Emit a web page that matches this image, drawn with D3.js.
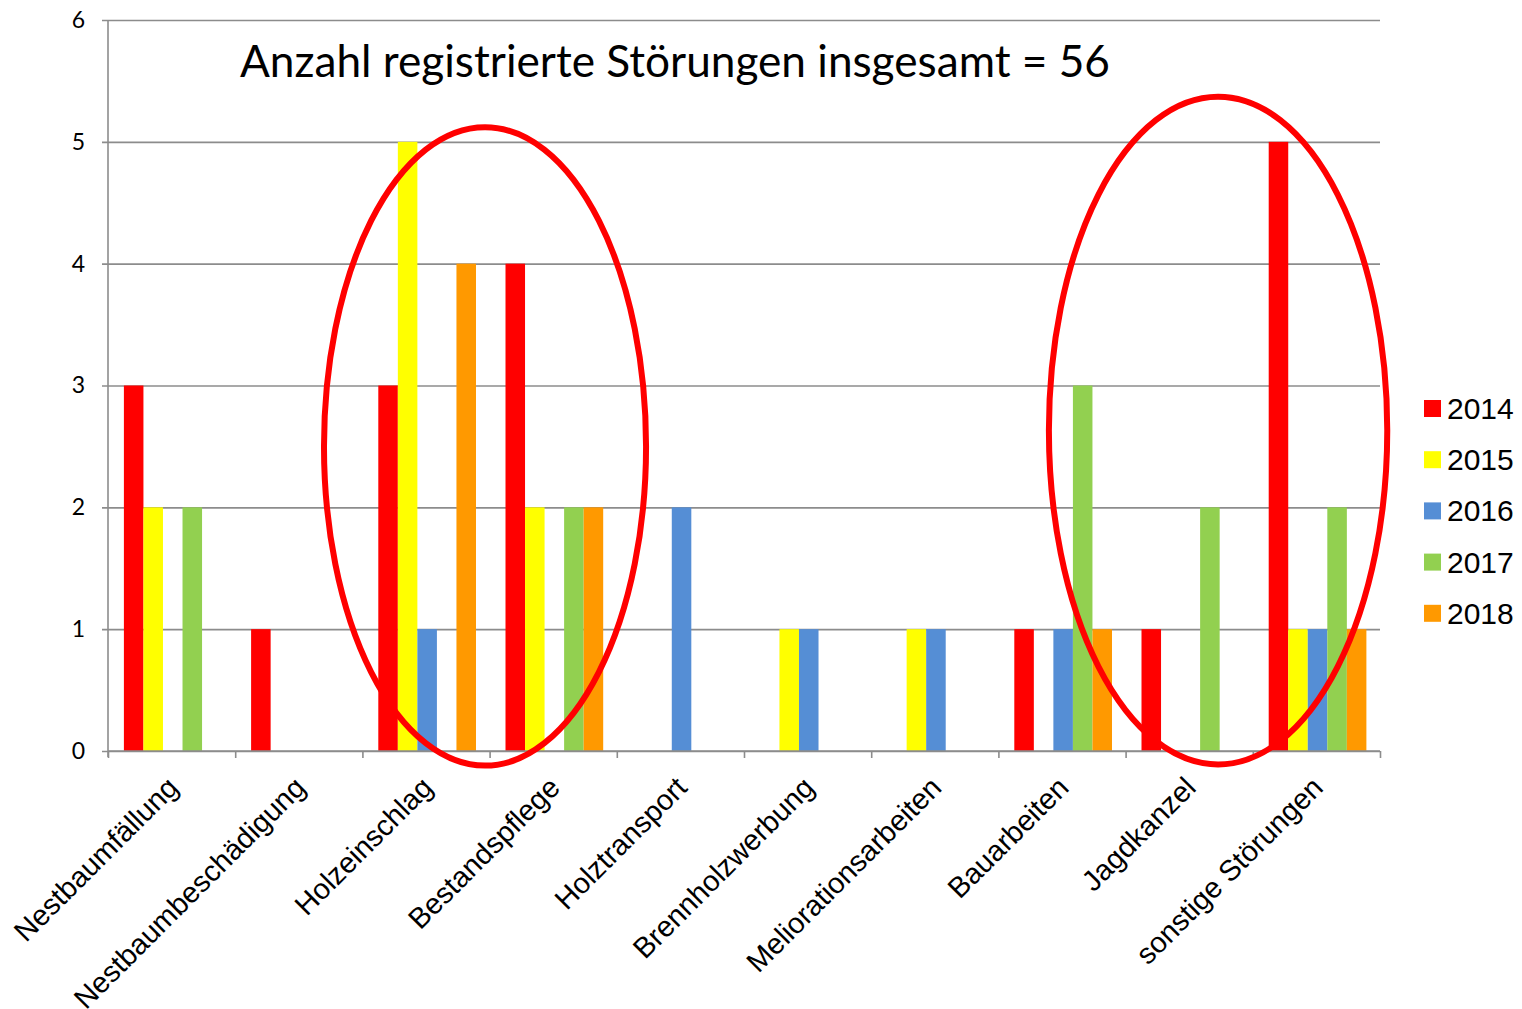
<!DOCTYPE html>
<html>
<head>
<meta charset="utf-8">
<script src="https://cdn.jsdelivr.net/npm/d3@7"></script>
<style>
  body { margin: 0; background: #fff; }
  svg { display: block; }
</style>
</head>
<body>
<svg id="chart"></svg>
<script>
// data
let categories = ["Nestbaumfällung", "Nestbaumbeschädigung", "Holzeinschlag", "Bestandspflege", "Holztransport",
                  "Brennholzwerbung", "Meliorationsarbeiten", "Bauarbeiten", "Jagdkanzel", "sonstige Störungen"]
let years = ["2014", "2015", "2016", "2017", "2018"]
let v2014 = [3, 1, 3, 4, 0, 0, 0, 1, 1, 5]
let v2015 = [2, 0, 5, 2, 0, 1, 1, 0, 0, 1]
let v2016 = [0, 0, 1, 0, 2, 1, 1, 1, 0, 1]
let v2017 = [2, 0, 0, 2, 0, 0, 0, 3, 2, 2]
let v2018 = [0, 0, 4, 2, 0, 0, 0, 1, 0, 1]
let yTicks = [0, 1, 2, 3, 4, 5, 6]
let titleText = "Anzahl registrierte Störungen insgesamt = 56"
// ellipses: center in category units / values, radii in same units
let ellipses = [
  {cx: 2.964, cy: 2.50, rx: 1.266, ry: 2.62},
  {cx: 8.727, cy: 2.63, rx: 1.33, ry: 2.74}
]

let colors = ["#FF0000", "#FFFF00", "#558ED5", "#92D050", "#FF9900"]
let series = [v2014, v2015, v2016, v2017, v2018]

let w = 1522
let h = 1009
let pLeft = 108, pRight = 1380, pTop = 20, pBottom = 751

let svg = d3.select("#chart").attr("width", w).attr("height", h)

let x0 = d3.scaleBand().domain(categories).range([pLeft, pRight]).paddingInner(0).paddingOuter(0)
let x1 = d3.scaleBand().domain(years).range([x0.bandwidth() * 0.125, x0.bandwidth() * 0.893])
let y = d3.scaleLinear().domain([0, 6]).range([pBottom, pTop])
let xPos = d3.scaleLinear().domain([0, categories.length]).range([pLeft, pRight])

let grey = "#8c8c8c"

// gridlines + y axis
let yAxis = d3.axisLeft(y).tickValues(yTicks).tickSize(-(pRight - pLeft)).tickFormat(d3.format("d"))
let gy = svg.append("g")
  .attr("transform", "translate(" + pLeft + ",0)")
  .call(yAxis)
gy.select(".domain").remove()
gy.selectAll(".tick line").attr("stroke", grey).attr("stroke-width", 1.6).attr("x1", -6)
gy.selectAll(".tick text")
  .attr("x", -23)
  .attr("fill", "#000")
  .style("font-family", "Lato, 'Open Sans', sans-serif")
  .style("font-size", "23px")

svg.append("line")
  .attr("x1", pLeft).attr("x2", pLeft)
  .attr("y1", pTop).attr("y2", pBottom + 6)
  .attr("stroke", grey).attr("stroke-width", 1.6)

// bars
let rows = categories.map((c, i) => ({cat: c, vals: years.map((yr, j) => ({year: yr, value: series[j][i], color: colors[j]}))}))

svg.append("g").selectAll("g")
  .data(rows)
  .enter()
  .append("g")
  .attr("transform", d => "translate(" + x0(d.cat) + ",0)")
  .selectAll("rect")
  .data(d => d.vals)
  .enter()
  .append("rect")
  .attr("x", d => x1(d.year))
  .attr("width", x1.bandwidth())
  .attr("y", d => y(d.value))
  .attr("height", d => y(0) - y(d.value))
  .attr("fill", d => d.color)

// x axis
let xAxis = d3.axisBottom(xPos).tickValues(d3.range(0, categories.length + 1)).tickSize(7).tickFormat("")
let gx = svg.append("g")
  .attr("transform", "translate(0," + pBottom + ")")
  .call(xAxis)
gx.select(".domain").attr("stroke", grey).attr("stroke-width", 1.6).attr("d", "M" + pLeft + ",0H" + pRight)
gx.selectAll(".tick line").attr("stroke", grey).attr("stroke-width", 1.6)

svg.append("g").selectAll("text")
  .data(categories)
  .enter()
  .append("text")
  .attr("transform", d => "translate(" + (x0(d) + x0.bandwidth() / 2 - 6) + "," + (pBottom + 24) + ") rotate(-45)")
  .attr("text-anchor", "end")
  .attr("dy", "0.7em")
  .style("font-family", "Arial, 'Liberation Sans', sans-serif")
  .style("font-size", "29px")
  .attr("fill", "#000")
  .text(d => d)

// title
svg.append("text")
  .attr("x", 240)
  .attr("y", 77)
  .attr("textLength", 870)
  .attr("lengthAdjust", "spacingAndGlyphs")
  .style("font-family", "Lato, 'Open Sans', sans-serif")
  .style("font-size", "44px")
  .attr("fill", "#000")
  .text(titleText)

// annotation ellipses
let sx = (pRight - pLeft) / categories.length
svg.append("g").selectAll("ellipse")
  .data(ellipses)
  .enter()
  .append("ellipse")
  .attr("cx", d => xPos(d.cx))
  .attr("cy", d => y(d.cy))
  .attr("rx", d => d.rx * sx)
  .attr("ry", d => y(0) - y(d.ry))
  .attr("fill", "none")
  .attr("stroke", "#FF0000")
  .attr("stroke-width", 6)

// legend
let legend = svg.append("g").attr("transform", "translate(1424,400)")
let item = legend.selectAll("g")
  .data(years)
  .enter()
  .append("g")
  .attr("transform", (d, i) => "translate(0," + (i * 51.2) + ")")
item.append("rect")
  .attr("width", 17).attr("height", 17)
  .attr("fill", (d, i) => colors[i])
item.append("text")
  .attr("x", 23)
  .attr("y", 19)
  .style("font-family", "Arial, 'Liberation Sans', sans-serif")
  .style("font-size", "30px")
  .attr("fill", "#000")
  .text(d => d)
</script>
</body>
</html>
